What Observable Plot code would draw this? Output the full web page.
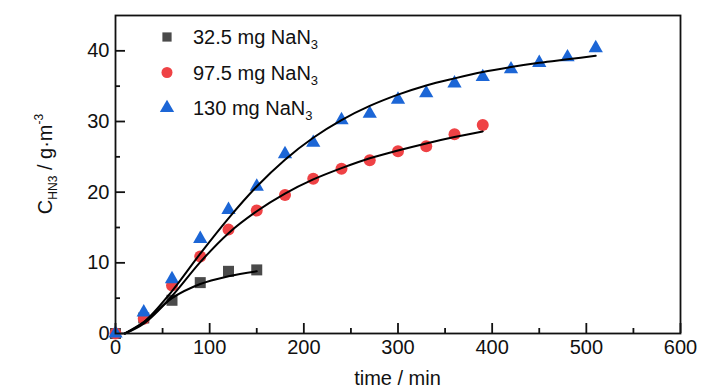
<!DOCTYPE html>
<html><head><meta charset="utf-8">
<script src="https://cdn.jsdelivr.net/npm/d3@7"></script>
<script src="https://cdn.jsdelivr.net/npm/@observablehq/plot@0.6"></script>
<style>
body{margin:0;background:#fff;}
#chart{position:relative;width:728px;height:390px;}
svg{font-family:"Liberation Sans",Arial,sans-serif;}
</style></head>
<body><div id="chart"></div>
<script>
// measured points (time / min, concentration g·m^-3)
const timesSquare = [0, 30, 60, 90, 120, 150];
const valuesSquare = [0, 2.2, 4.7, 7.2, 8.8, 9.0];
const timesCircle = [0, 30, 60, 90, 120, 150, 180, 210, 240, 270, 300, 330, 360, 390];
const valuesCircle = [0, 2.1, 6.8, 10.9, 14.7, 17.4, 19.6, 21.9, 23.3, 24.5, 25.8, 26.5, 28.2, 29.5];
const timesTriangle = [0, 30, 60, 90, 120, 150, 180, 210, 240, 270, 300, 330, 360, 390, 420, 450, 480, 510];
const valuesTriangle = [0, 3.0, 7.7, 13.4, 17.5, 20.8, 25.4, 27.0, 30.2, 31.1, 33.1, 34.0, 35.4, 36.3, 37.4, 38.3, 39.1, 40.4];
// fitted curves
const fitTimesSquare = [10, 30, 60, 90, 120, 150];
const fitValuesSquare = [0, 1.6, 5.0, 7.0, 8.1, 8.8];
const fitTimesCircle = [10, 30, 60, 90, 120, 150, 180, 210, 240, 270, 300, 330, 360, 390];
const fitValuesCircle = [0, 1.4, 5.3, 10.1, 14.2, 17.3, 19.8, 21.8, 23.4, 24.8, 25.9, 26.9, 27.8, 28.6];
const fitTimesTriangle = [10, 30, 60, 90, 120, 150, 180, 210, 240, 270, 300, 330, 360, 390, 420, 450, 480, 510];
const fitValuesTriangle = [0, 1.6, 6.0, 11.3, 16.3, 20.8, 24.6, 27.7, 30.2, 32.2, 33.8, 35.1, 36.1, 37.0, 37.7, 38.3, 38.8, 39.3];

const seriesLabels = ["32.5 mg NaN", "97.5 mg NaN", "130 mg NaN"];
const xMajorTicks = [0, 100, 200, 300, 400, 500, 600];
const xMinorTicks = [50, 150, 250, 350, 450, 550];
const yMajorTicks = [0, 10, 20, 30, 40];
const yMinorTicks = [5, 15, 25, 35];

const colors = {sq: "#4a4a4a", ci: "#ef4245", tr: "#1c66d6"};

const zip = (ts, vs) => ts.map((t, i) => ({t, v: vs[i]}));
const sq = zip(timesSquare, valuesSquare);
const ci = zip(timesCircle, valuesCircle);
const tr = zip(timesTriangle, valuesTriangle);
const fits = [zip(fitTimesSquare, fitValuesSquare), zip(fitTimesCircle, fitValuesCircle), zip(fitTimesTriangle, fitValuesTriangle)];

const W = 728, H = 390, mL = 115, mR = 48, mT = 15, mB = 57;
const fw = W - mL - mR, fh = H - mT - mB;

const plot = Plot.plot({
  width: W, height: H,
  marginLeft: mL, marginRight: mR, marginTop: mT, marginBottom: mB,
  x: {domain: [0, 600]},
  y: {domain: [0, 45]},
  style: {fontFamily: "Liberation Sans, Arial, sans-serif", background: "#fff"},
  marks: [
    Plot.axisX({ticks: xMajorTicks, tickSize: 0, tickPadding: 6, fontSize: 20, label: null, color: "#111"}),
    Plot.axisY({ticks: yMajorTicks, tickSize: 0, tickPadding: 6, fontSize: 20, label: null, color: "#111"}),
    Plot.tickX(xMajorTicks, {x: d => d, insetTop: fh - 10, stroke: "#111", strokeWidth: 1.8}),
    Plot.tickX(xMinorTicks, {x: d => d, insetTop: fh - 5, stroke: "#111", strokeWidth: 1.8}),
    Plot.tickY(yMajorTicks, {y: d => d, insetRight: fw - 10, stroke: "#111", strokeWidth: 1.8}),
    Plot.tickY(yMinorTicks, {y: d => d, insetRight: fw - 5, stroke: "#111", strokeWidth: 1.8}),
    Plot.dot(sq, {x: "t", y: "v", r: 6.2, fill: colors.sq, symbol: "square"}),
    Plot.dot(ci, {x: "t", y: "v", r: 6, fill: colors.ci, symbol: "circle"}),
    Plot.dot(tr, {x: "t", y: "v", r: 5.3, fill: colors.tr, symbol: "triangle"}),
    ...fits.map(f => Plot.line(f, {x: "t", y: "v", stroke: "#000", strokeWidth: 2, curve: "monotone-x"})),
    Plot.frame({stroke: "#111", strokeWidth: 1.8})
  ]
});
document.getElementById("chart").appendChild(plot);

const svg = d3.select(plot);
// legend
const legend = [
  {sym: d3.symbolSquare, color: colors.sq, label: seriesLabels[0], r: 5.2},
  {sym: d3.symbolCircle, color: colors.ci, label: seriesLabels[1], r: 5.5},
  {sym: d3.symbolTriangle, color: colors.tr, label: seriesLabels[2], r: 5.3}
];
const lg = svg.append("g");
legend.forEach((d, i) => {
  const y = 37 + i * 35.5;
  lg.append("path")
    .attr("d", d3.symbol(d.sym, Math.PI * d.r * d.r)())
    .attr("transform", `translate(167,${y})`)
    .attr("fill", d.color);
  const t = lg.append("text").attr("x", 193).attr("y", y + 7)
    .style("font-size", "20px").style("text-anchor", "start").attr("fill", "#111");
  t.append("tspan").text(d.label);
  t.append("tspan").style("font-size", "13px").attr("dy", 5).text("3");
});
// axis labels
svg.append("text").attr("x", mL + fw / 2).attr("y", 385).style("text-anchor", "middle")
  .style("font-size", "20px").attr("fill", "#111").text("time / min");
const yl = svg.append("text").attr("transform", `translate(52,164) rotate(-90)`)
  .style("text-anchor", "middle").style("font-size", "20px").attr("fill", "#111");
yl.append("tspan").text("C");
yl.append("tspan").style("font-size", "12px").attr("dy", 5).text("HN3");
yl.append("tspan").attr("dy", -5).text(" / g·m");
yl.append("tspan").style("font-size", "12px").attr("dy", -9).text("-3");
</script></body></html>
